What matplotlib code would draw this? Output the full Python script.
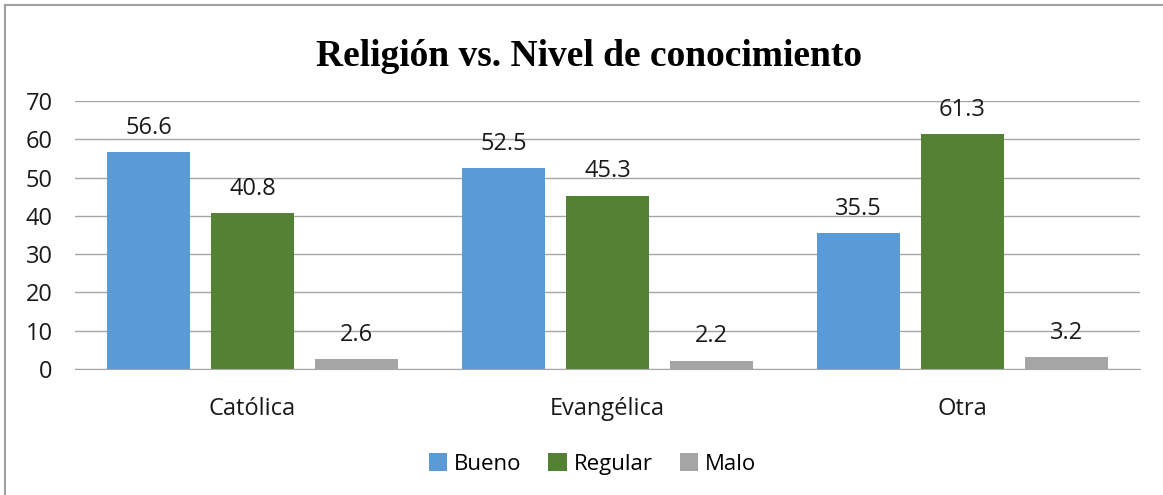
import matplotlib.pyplot as plt
from matplotlib.patches import Rectangle
import numpy as np

categories = ["Católica", "Evangélica", "Otra"]
series_names = ["Bueno", "Regular", "Malo"]
bueno = [56.6, 52.5, 35.5]
regular = [40.8, 45.3, 61.3]
malo = [2.6, 2.2, 3.2]
colors = ["#5B9BD5", "#548235", "#A5A5A5"]

plt.rcParams["font.family"] = ["Open Sans", "DejaVu Sans"]

fig = plt.figure(figsize=(11.63, 4.95), dpi=100)
# outer chart frame (only left/top visible in the crop)
fig.patches.append(Rectangle((0.0045, -0.05), 1.2, 1.04, transform=fig.transFigure,
                             fill=False, edgecolor="#A0A0A0", linewidth=1.5))

ax = fig.add_axes([0.0645, 0.2545, 0.9155, 0.5415])
x = np.arange(len(categories))
step = 0.293
width = 0.234
for i, (vals, name) in enumerate(zip([bueno, regular, malo], series_names)):
    bars = ax.bar(x + (i - 1) * step, vals, width, color=colors[i], label=name, zorder=2)
    for b, v in zip(bars, vals):
        ax.text(b.get_x() + b.get_width() / 2, v + 6.3, f"{v:.1f}",
                ha="center", va="center", fontsize=17, color="#1a1a1a", zorder=3)

ax.set_xlim(-0.5, 2.5)
ax.set_ylim(0, 70)
ax.set_yticks(range(0, 71, 10))
ax.yaxis.grid(True, color="#A6A6A6", linewidth=1)
ax.set_axisbelow(True)
for s in ["top", "right", "left"]:
    ax.spines[s].set_visible(False)
ax.spines["bottom"].set_color("#A6A6A6")
ax.tick_params(axis="both", length=0, labelsize=17, colors="#1a1a1a")
ax.tick_params(axis="y", pad=16)
ax.tick_params(axis="x", pad=20)
ax.set_xticks(x)
ax.set_xticklabels(categories)

fig.text(0.5066, 0.885, "Religión vs. Nivel de conocimiento", ha="center", va="center",
         fontsize=27, fontweight="bold", family="Liberation Serif")

ax.legend(loc="center", bbox_to_anchor=(0.486, -0.355), ncol=3, frameon=False,
          fontsize=16, handlelength=0.85, handleheight=0.85, handletextpad=0.3,
          columnspacing=1.2)

fig.savefig("out.png", dpi=100)
